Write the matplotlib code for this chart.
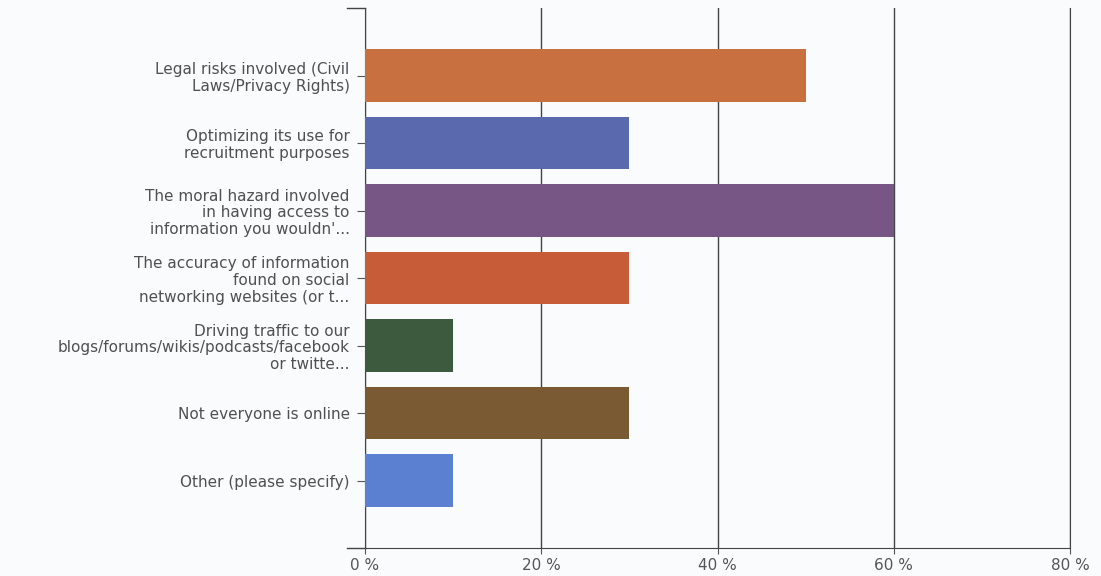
import matplotlib
matplotlib.use('Agg')
import matplotlib.pyplot as plt

categorias = [
    'Legal risks involved (Civil\nLaws/Privacy Rights)',
    'Optimizing its use for\nrecruitment purposes',
    'The moral hazard involved\nin having access to\ninformation you wouldn\'...',
    'The accuracy of information\nfound on social\nnetworking websites (or t...',
    'Driving traffic to our\nblogs/forums/wikis/podcasts/facebook\nor twitte...',
    'Not everyone is online',
    'Other (please specify)',
]
valores = [50, 30, 60, 30, 10, 30, 10]
colores = ['#C8703F', '#5A68AE', '#775685', '#C65C38', '#3E5A3E', '#7A5A32', '#5B80D2']
ticks_x = [0, 20, 40, 60, 80]

plt.rcParams['font.family'] = ['DejaVu Sans']

fig = plt.figure(figsize=(11.01, 5.76), dpi=100, facecolor='#F9FBFC')
ax = fig.add_axes([365 / 1101, 1 - 548 / 576, (1070 - 365) / 1101, 540 / 576])
ax.set_facecolor('#F9FBFC')

pos = list(range(len(categorias)))
ax.barh(pos, valores, height=0.78, color=colores, zorder=3)

ax.set_xlim(0, 80)
ax.set_ylim(7, -1)
ax.set_xticks(ticks_x)
ax.set_xticklabels([f'{t} %' for t in ticks_x], fontsize=11, color='#555555')
ax.set_yticks(pos)
ax.set_yticklabels(categorias, fontsize=11, color='#505050', linespacing=1.15)

ax.grid(axis='x', color='#444444', linewidth=1.0, zorder=1)
ax.spines['top'].set_visible(False)
for s in ['left', 'bottom', 'right']:
    ax.spines[s].set_color('#444444')
ax.tick_params(axis='y', length=6, color='#555555', pad=5)
ax.tick_params(axis='x', length=4, color='#555555', pad=3)

# marcas en los extremos del eje y
ax.plot([-2.0, 0], [-1, -1], color='#444444', linewidth=1.0, clip_on=False)
ax.plot([-2.0, 0], [7, 7], color='#444444', linewidth=1.0, clip_on=False)

plt.savefig('out.png', dpi=100, facecolor=fig.get_facecolor())
